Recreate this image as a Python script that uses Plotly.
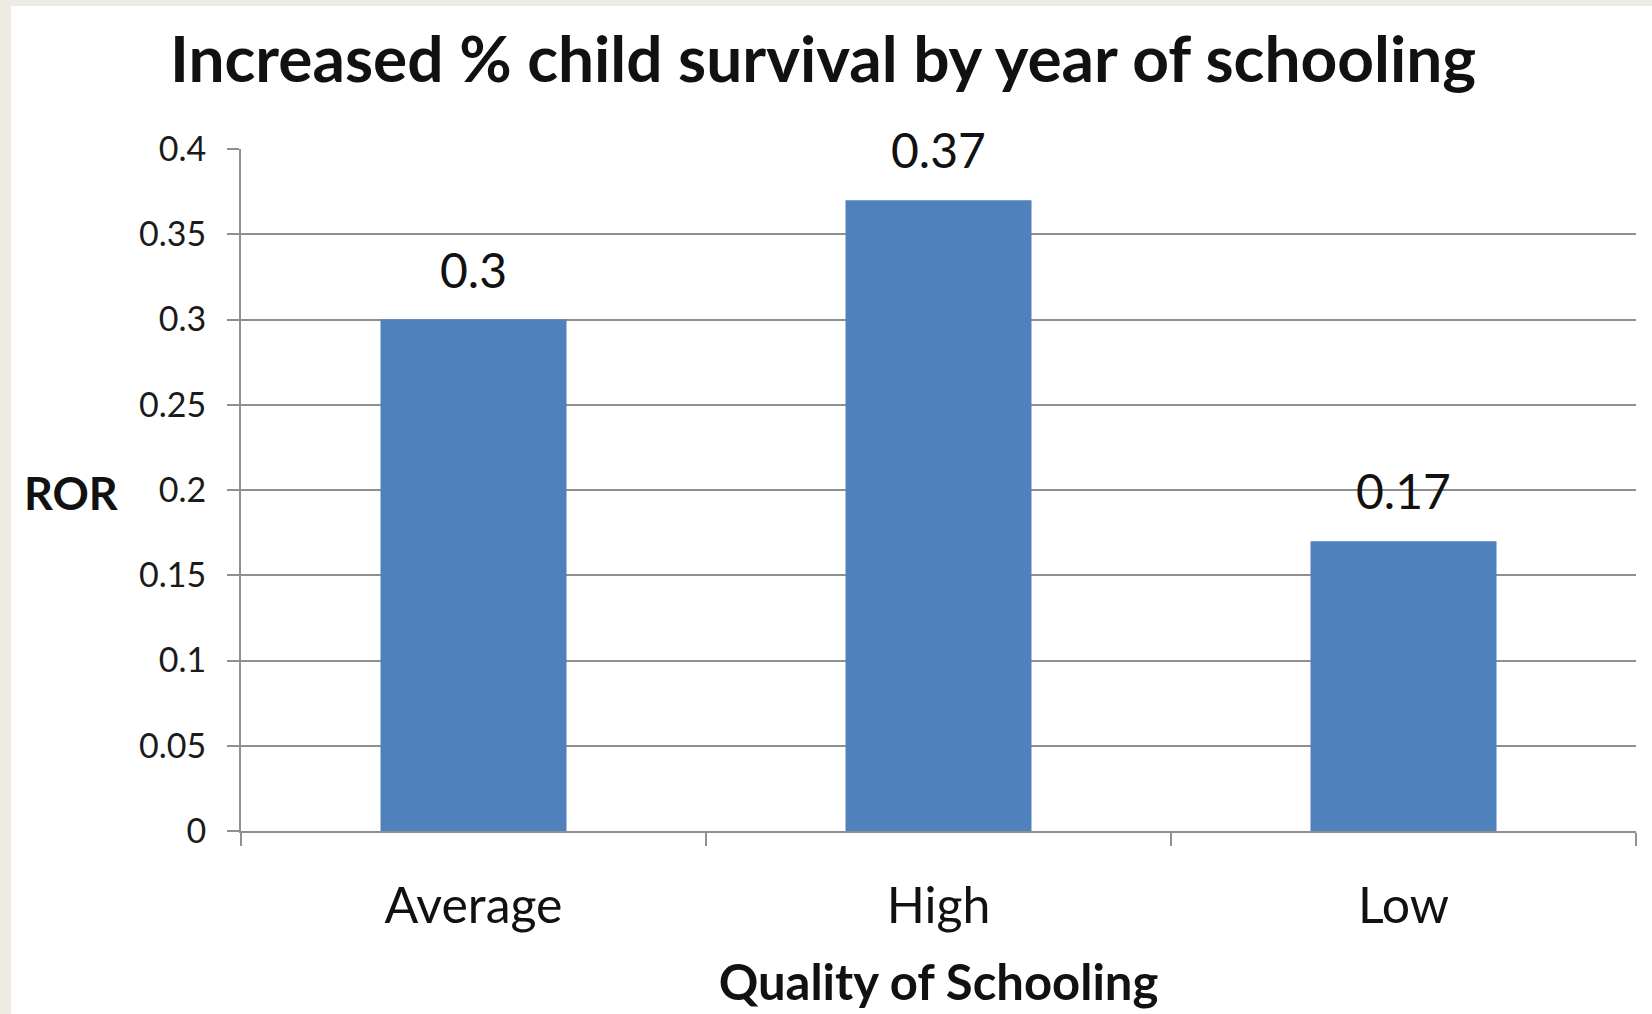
import plotly.graph_objects as go

categories = ["Average", "High", "Low"]
values = [0.30, 0.37, 0.17]
value_labels = ["0.3", "0.37", "0.17"]
y_tickvals = [0, 0.05, 0.1, 0.15, 0.2, 0.25, 0.3, 0.35, 0.4]
y_ticktext = ["0", "0.05", "0.1", "0.15", "0.2", "0.25", "0.3", "0.35", "0.4"]

W, H = 1652, 1014
ML, MR, MT, MB = 241, 16, 149, 183
PW = W - ML - MR
PH = H - MT - MB

FONT = "Lato"
GRID = "#8f8f8f"
BEIGE = "#EEEBE3"

fig = go.Figure(
    go.Bar(
        x=categories,
        y=values,
        marker=dict(color="#4F81BD", line=dict(width=0)),
        cliponaxis=False,
        hoverinfo="x+y",
    )
)

def px_x(p):
    return (p - ML) / PW

def px_y(p):
    return 1 - (p - MT) / PH

shapes = [
    dict(type="rect", xref="paper", yref="paper", x0=px_x(0), x1=px_x(11), y0=px_y(H), y1=px_y(0),
         fillcolor=BEIGE, line=dict(width=0), layer="below"),
    dict(type="rect", xref="paper", yref="paper", x0=px_x(0), x1=px_x(W), y0=px_y(6), y1=px_y(0),
         fillcolor=BEIGE, line=dict(width=0), layer="below"),
]

annotations = [
    dict(text="<b>ROR</b>", xref="paper", yref="paper", x=px_x(22), y=px_y(493),
         xanchor="left", yanchor="middle", showarrow=False,
         font=dict(family=FONT, size=45, color="#111111")),
]
for c, v, t in zip(categories, values, value_labels):
    annotations.append(dict(text=t, x=c, y=v, xref="x", yref="y",
                            xanchor="center", yanchor="bottom", yshift=20, showarrow=False,
                            font=dict(family=FONT, size=48, color="#111111")))

fig.update_layout(
    width=W, height=H,
    margin=dict(l=ML, r=MR, t=MT, b=MB),
    paper_bgcolor="white", plot_bgcolor="white",
    bargap=0.6,
    showlegend=False,
    shapes=shapes,
    annotations=annotations,
    title=dict(text="<b>Increased % child survival by year of schooling</b>",
               x=823 / W, xanchor="center",
               y=1 - 60 / H, yanchor="middle",
               font=dict(family=FONT, size=64, color="#111111")),
    xaxis=dict(
        range=[-0.5, 2.5],
        showline=True, linecolor=GRID, linewidth=2,
        ticks="outside", tickson="boundaries", ticklen=13, tickwidth=2, tickcolor=GRID,
        tickfont=dict(family=FONT, size=50, color="#111111"),
        ticklabelstandoff=30,
        showgrid=False,
        title=dict(text="<b>Quality of Schooling</b>", font=dict(family=FONT, size=49, color="#111111"),
                   standoff=33),
    ),
    yaxis=dict(
        range=[0, 0.4],
        tickvals=y_tickvals, ticktext=y_ticktext,
        showline=True, linecolor=GRID, linewidth=2,
        ticks="outside", ticklen=12, tickwidth=2, tickcolor=GRID,
        tickfont=dict(family=FONT, size=34, color="#1a1a1a"),
        ticklabelstandoff=14,
        showgrid=True, gridcolor=GRID, gridwidth=2,
        zeroline=False,
    ),
)

fig.write_html("out.html")
